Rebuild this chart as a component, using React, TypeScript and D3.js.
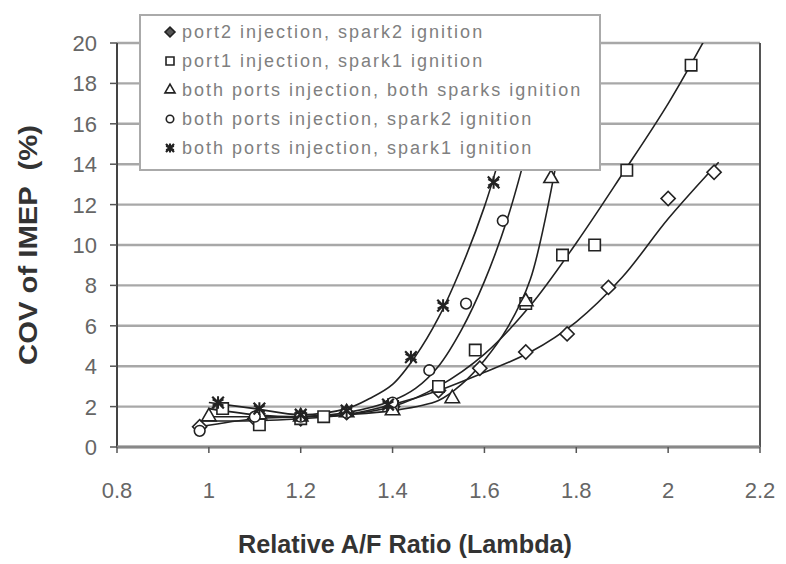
import React from "react";
import * as d3 from "d3";

const X_TICKS = [0.8, 1, 1.2, 1.4, 1.6, 1.8, 2, 2.2];
const Y_TICKS = [0, 2, 4, 6, 8, 10, 12, 14, 16, 18, 20];
const X_TITLE = "Relative A/F Ratio (Lambda)";
const Y_TITLE = "COV of IMEP  (%)";

const SERIES_NAMES = [
  "port2 injection, spark2 ignition",
  "port1 injection, spark1 ignition",
  "both ports injection, both sparks ignition",
  "both ports injection, spark2 ignition",
  "both ports injection, spark1 ignition",
];
const SERIES_MARKERS = ["diamond", "square", "triangle", "circle", "star"];

// measured points [lambda, COV %]
const port2Spark2Points: [number, number][] = [
  [0.98, 1.0], [1.1, 1.4], [1.2, 1.4], [1.3, 1.7], [1.4, 2.0], [1.5, 2.8],
  [1.59, 3.9], [1.69, 4.7], [1.78, 5.6], [1.87, 7.9], [2.0, 12.3], [2.1, 13.6],
];
const port1Spark1Points: [number, number][] = [
  [1.03, 1.9], [1.11, 1.1], [1.2, 1.4], [1.25, 1.5], [1.4, 2.0], [1.5, 3.0],
  [1.58, 4.8], [1.69, 7.1], [1.77, 9.5], [1.84, 10.0], [1.91, 13.7], [2.05, 18.9],
];
const bothSparksPoints: [number, number][] = [
  [1.0, 1.5], [1.11, 1.6], [1.2, 1.5], [1.3, 1.7], [1.4, 1.8], [1.53, 2.4],
  [1.69, 7.2], [1.745, 13.3],
];
const bothPortsSpark2Points: [number, number][] = [
  [0.98, 0.8], [1.1, 1.5], [1.2, 1.5], [1.3, 1.7], [1.4, 2.2], [1.48, 3.8],
  [1.56, 7.1], [1.64, 11.2],
];
const bothPortsSpark1Points: [number, number][] = [
  [1.02, 2.2], [1.11, 1.9], [1.2, 1.6], [1.3, 1.8], [1.39, 2.1], [1.44, 4.45],
  [1.51, 7.0], [1.62, 13.1],
];

// trend curves [lambda, COV %]
const port2Spark2Trend: [number, number][] = [
  [0.98, 1.3], [1.1, 1.3], [1.2, 1.4], [1.3, 1.6], [1.4, 2.1], [1.5, 2.8],
  [1.6, 3.7], [1.7, 4.7], [1.8, 6.2], [1.9, 8.4], [2.0, 11.3], [2.11, 14.1],
];
const port1Spark1Trend: [number, number][] = [
  [1.0, 1.9], [1.1, 1.6], [1.2, 1.5], [1.3, 1.6], [1.4, 2.0], [1.5, 3.0],
  [1.6, 4.6], [1.7, 7.0], [1.8, 10.1], [1.9, 13.5], [2.0, 17.0], [2.09, 20.6],
];
const bothSparksTrend: [number, number][] = [
  [1.0, 1.5], [1.1, 1.5], [1.2, 1.5], [1.3, 1.6], [1.4, 1.8], [1.5, 2.3],
  [1.55, 3.1], [1.6, 4.3], [1.65, 5.9], [1.7, 8.3], [1.76, 14.5],
];
const bothPortsSpark2Trend: [number, number][] = [
  [0.98, 1.0], [1.1, 1.4], [1.2, 1.5], [1.3, 1.7], [1.4, 2.3], [1.45, 2.9],
  [1.5, 4.0], [1.55, 5.8], [1.6, 8.2], [1.65, 11.3], [1.69, 14.5],
];
const bothPortsSpark1Trend: [number, number][] = [
  [1.0, 2.2], [1.1, 1.9], [1.2, 1.6], [1.3, 1.9], [1.35, 2.4], [1.4, 3.1],
  [1.45, 4.5], [1.5, 6.4], [1.55, 8.9], [1.6, 11.9], [1.635, 14.5],
];

const ALL_POINTS = [port2Spark2Points, port1Spark1Points, bothSparksPoints, bothPortsSpark2Points, bothPortsSpark1Points];
const ALL_TRENDS = [port2Spark2Trend, port1Spark1Trend, bothSparksTrend, bothPortsSpark2Trend, bothPortsSpark1Trend];

const W = 786;
const H = 564;
const L = 117, R = 760, T = 43, B = 447;

function Marker({ kind, x, y, s = 1, legend = false }: { kind: string; x: number; y: number; s?: number; legend?: boolean }) {
  const stroke = "#222";
  const sw = 1.6;
  if (kind === "diamond") {
    const p = d3.symbol(d3.symbolSquare, 100 * s * s)()!;
    return <path d={p} transform={`translate(${x},${y}) rotate(45)`} fill={legend ? "#555" : "#fff"} stroke={stroke} strokeWidth={sw} />;
  }
  if (kind === "square") {
    const p = d3.symbol(d3.symbolSquare, 130 * s * s)()!;
    return <path d={p} transform={`translate(${x},${y})`} fill="#fff" stroke={stroke} strokeWidth={sw} />;
  }
  if (kind === "triangle") {
    const p = d3.symbol(d3.symbolTriangle, 90 * s * s)()!;
    return <path d={p} transform={`translate(${x},${y})`} fill="#fff" stroke={stroke} strokeWidth={sw} />;
  }
  if (kind === "circle") {
    const p = d3.symbol(d3.symbolCircle, 90 * s * s)()!;
    return <path d={p} transform={`translate(${x},${y})`} fill="#fff" stroke={stroke} strokeWidth={sw} />;
  }
  const p = d3.symbol(d3.symbolAsterisk, 110 * s * s)()!;
  const px = d3.symbol(d3.symbolX, 90 * s * s)()!;
  return (
    <g transform={`translate(${x},${y})`}>
      <path d={p} fill="none" stroke={stroke} strokeWidth={2} />
      <path d={px} fill="none" stroke={stroke} strokeWidth={2.2} />
    </g>
  );
}

export default function App() {
  const x = d3.scaleLinear().domain([0.8, 2.2]).range([L, R]);
  const y = d3.scaleLinear().domain([0, 20]).range([B, T]);
  const line = d3.line<[number, number]>().x((d) => x(d[0])).y((d) => y(d[1])).curve(d3.curveCatmullRom.alpha(0.5));

  const legendX = 140, legendY = 15, legendW = 460, legendH = 155;
  const rowY0 = 32, rowDy = 29;

  return (
    <svg width={W} height={H} style={{ position: "absolute", left: 0, top: 0, background: "#fff" }} fontFamily="Liberation Sans, Arial, sans-serif">
      <defs>
        <clipPath id="plotClip">
          <rect x={L} y={T} width={R - L} height={B - T} />
        </clipPath>
      </defs>
      {/* gridlines */}
      {Y_TICKS.map((t) => (
        <line key={"g" + t} x1={L} x2={R} y1={y(t)} y2={y(t)} stroke="#a8a8a8" strokeWidth={2.4} />
      ))}
      {/* borders */}
      <line x1={R} x2={R} y1={T} y2={B} stroke="#555" strokeWidth={2} />
      <line x1={L} x2={L} y1={T} y2={B + 1} stroke="#444" strokeWidth={2} />
      <line x1={L} x2={R} y1={B} y2={B} stroke="#888" strokeWidth={3} />
      {/* y ticks */}
      {Y_TICKS.map((t) => (
        <g key={"yt" + t}>
          <line x1={L - 7} x2={L} y1={y(t)} y2={y(t)} stroke="#555" strokeWidth={1.5} />
          <text x={97} y={y(t)} dy="0.36em" textAnchor="end" fontSize={22} fill="#666">{t}</text>
        </g>
      ))}
      {/* x ticks */}
      {X_TICKS.map((t) => (
        <g key={"xt" + t}>
          <line x1={x(t)} x2={x(t)} y1={B} y2={B + 6} stroke="#555" strokeWidth={1.5} />
          <text x={x(t)} y={498} textAnchor="middle" fontSize={22} fill="#666">{t}</text>
        </g>
      ))}
      {/* titles */}
      <text x={405} y={553} textAnchor="middle" fontSize={25} fontWeight="bold" fill="#333" textLength={334} lengthAdjust="spacingAndGlyphs">{X_TITLE}</text>
      <text transform="translate(37,245) rotate(-90)" textAnchor="middle" fontSize={25} fontWeight="bold" fill="#333" textLength={240} lengthAdjust="spacingAndGlyphs" style={{ whiteSpace: "pre" }}>{Y_TITLE}</text>
      {/* trends */}
      <g clipPath="url(#plotClip)">
        {ALL_TRENDS.map((tr, i) => (
          <path key={"tr" + i} d={line(tr)!} fill="none" stroke="#222" strokeWidth={1.6} />
        ))}
      </g>
      {/* markers */}
      {ALL_POINTS.map((pts, i) =>
        pts.map((d, j) => <Marker key={i + "-" + j} kind={SERIES_MARKERS[i]} x={x(d[0])} y={y(d[1])} />)
      )}
      {/* legend */}
      <rect x={legendX} y={legendY} width={legendW} height={legendH} fill="#fff" stroke="#aaa" strokeWidth={2} />
      {SERIES_NAMES.map((name, i) => (
        <g key={"lg" + i}>
          <Marker kind={SERIES_MARKERS[i]} x={170} y={rowY0 + i * rowDy} s={0.7} legend />
          <text x={182} y={rowY0 + i * rowDy} dy="0.35em" fontSize={18} letterSpacing={2} fill="#808080">{name}</text>
        </g>
      ))}
    </svg>
  );
}
